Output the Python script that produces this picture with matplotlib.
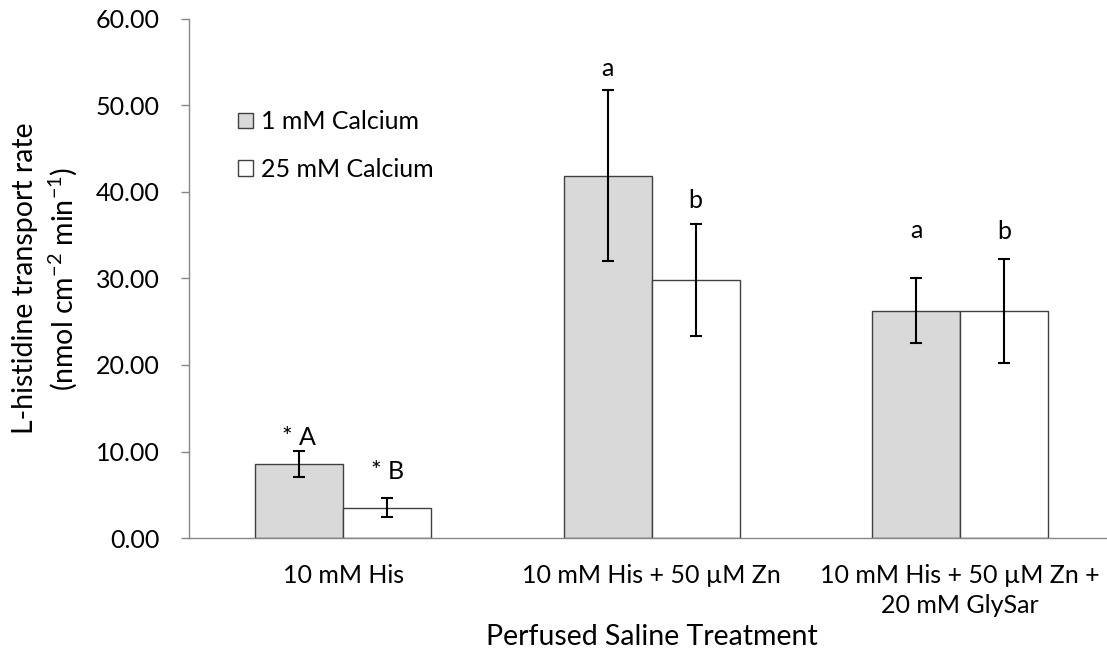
import numpy as np
import matplotlib.pyplot as plt
from matplotlib.patches import Patch

plt.rcParams['font.family'] = ['Lato', 'DejaVu Sans']
plt.rcParams['mathtext.fontset'] = 'custom'
plt.rcParams['mathtext.rm'] = 'Lato'
plt.rcParams['mathtext.it'] = 'Lato:italic'
plt.rcParams['mathtext.default'] = 'regular'

# treatment groups and measured transport rates
treatments = ['10 mM His', '10 mM His + 50 µM Zn', '10 mM His + 50 µM Zn +\n20 mM GlySar']
ca_low = [8.57, 41.9, 26.3]
ca_low_err = [1.48, 9.85, 3.75]
ca_high = [3.5, 29.8, 26.2]
ca_high_err = [1.1, 6.5, 6.0]
low_marks = ['* A', 'a', 'a']
high_marks = ['* B', 'b', 'b']
series_names = ['1 mM Calcium', '25 mM Calcium']

# gap between error bar top and letter baseline (data units)
low_gap = [0.7, 1.65, 4.65]
high_gap = [2.2, 1.85, 2.4]

x = np.arange(len(treatments))
w = 0.285
fs = 18

fig = plt.figure(figsize=(11.07, 6.59), dpi=100)
ax = fig.add_axes([0.1707, 0.1836, 0.836, 0.7876])

ax.bar(x - w / 2, ca_low, w, color='#d9d9d9', edgecolor='#404040', linewidth=1.0, zorder=2)
ax.bar(x + w / 2, ca_high, w, color='white', edgecolor='#404040', linewidth=1.0, zorder=2)
ax.errorbar(x - w / 2, ca_low, yerr=ca_low_err, fmt='none', ecolor='black',
            elinewidth=1.5, capsize=4.3, capthick=1.5, zorder=3)
ax.errorbar(x + w / 2, ca_high, yerr=ca_high_err, fmt='none', ecolor='black',
            elinewidth=1.5, capsize=4.3, capthick=1.5, zorder=3)

# significance letters above the error bars
for i in range(len(x)):
    ax.text(x[i] - w / 2, ca_low[i] + ca_low_err[i] + low_gap[i], low_marks[i],
            ha='center', va='baseline', fontsize=fs)
    ax.text(x[i] + w / 2, ca_high[i] + ca_high_err[i] + high_gap[i], high_marks[i],
            ha='center', va='baseline', fontsize=fs)

ax.set_xlim(-0.5, 2.5)
ax.set_ylim(0, 60)
ax.set_yticks(np.arange(0, 61, 10))
ax.yaxis.set_major_formatter(plt.FormatStrFormatter('%.2f'))
ax.set_xticks(x)
ax.set_xticklabels(treatments, fontsize=fs, linespacing=1.35)
ax.tick_params(axis='y', direction='out', length=6, width=1.0, color='#868686', labelsize=fs, pad=15)
ax.tick_params(axis='x', length=0, pad=19)
for s in ['top', 'right']:
    ax.spines[s].set_visible(False)
for s in ['left', 'bottom']:
    ax.spines[s].set_color('#868686')
    ax.spines[s].set_linewidth(1.0)

ax.set_xlabel('Perfused Saline Treatment', fontsize=20.5, labelpad=5)
ax.set_ylabel('L-histidine transport rate\n(nmol cm$^{-2}$ min$^{-1}$)', fontsize=20.5,
              labelpad=12, linespacing=1.3)

handles = [Patch(facecolor='#d9d9d9', edgecolor='#404040', linewidth=1.0),
           Patch(facecolor='white', edgecolor='#404040', linewidth=1.0)]
ax.legend(handles, series_names, loc='upper left', bbox_to_anchor=(0.053, 0.824),
          frameon=False, fontsize=fs, borderpad=0, borderaxespad=0,
          handlelength=0.6, handleheight=0.6, handletextpad=0.3, labelspacing=0.98)

fig.savefig('out.png', dpi=100)
